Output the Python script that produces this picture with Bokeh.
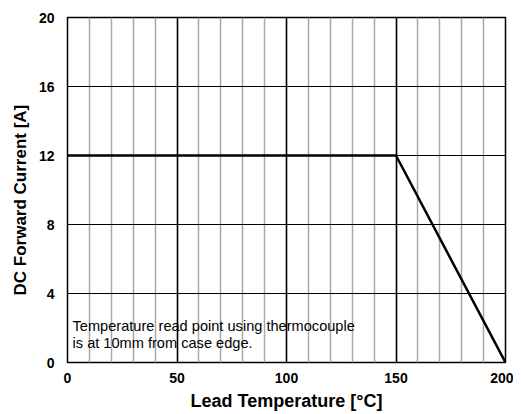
from bokeh.plotting import figure
from bokeh.models import FixedTicker, Label, Range1d, Title
from bokeh.embed import file_html
from bokeh.resources import INLINE

temps = [0, 150, 200]
current = [12, 12, 0]
x_ticks = [0, 50, 100, 150, 200]
x_minor = list(range(0, 201, 10))
y_ticks = [0, 4, 8, 12, 16, 20]
note_lines = ["Temperature read point using thermocouple", "is at 10mm from case edge."]
note_x = 2.3
note_y = [2.14, 1.15]
y_title = "DC Forward Current [A]"
x_title = "Lead Temperature [°C]"

p = figure(frame_width=438, frame_height=345, output_backend="svg", toolbar_location=None,
           x_range=Range1d(0, 200), y_range=Range1d(0, 20),
           min_border_left=67, min_border_right=8, min_border_top=17, min_border_bottom=46)
p.background_fill_color = "white"
p.border_fill_color = "white"
p.outline_line_color = "black"
p.outline_line_width = 1.5

p.xaxis.ticker = FixedTicker(ticks=x_ticks, minor_ticks=x_minor)
p.yaxis.ticker = FixedTicker(ticks=y_ticks)
p.xgrid.ticker = FixedTicker(ticks=x_ticks, minor_ticks=x_minor)
p.ygrid.ticker = FixedTicker(ticks=y_ticks)
p.xgrid.grid_line_color = "black"
p.xgrid.grid_line_width = 1.5
p.xgrid.minor_grid_line_color = "#a8a8a8"
p.xgrid.minor_grid_line_width = 1.5
p.ygrid.grid_line_color = "black"
p.ygrid.grid_line_width = 1.2
p.xgrid.grid_line_alpha = 1
p.ygrid.grid_line_alpha = 1

for ax in (p.xaxis, p.yaxis):
    ax.axis_line_color = None
    ax.major_tick_line_color = None
    ax.minor_tick_line_color = None
    ax.major_label_text_font = "Liberation Sans"
    ax.major_label_text_font_style = "bold"
    ax.major_label_text_font_size = "14px"
    ax.major_label_text_color = "black"
    ax.axis_label_text_font = "Liberation Sans"
    ax.axis_label_text_font_style = "bold"
    ax.axis_label_text_color = "black"

p.xaxis.major_label_standoff = 4
p.yaxis.major_label_standoff = 7
p.xaxis.axis_label = x_title
p.xaxis.axis_label_text_font_size = "18px"
p.xaxis.axis_label_standoff = 5

p.add_layout(Title(text=y_title, align="left", offset=67, standoff=12,
                   text_font="Liberation Sans", text_font_style="bold",
                   text_font_size="17px", text_color="black"), "left")

p.line(temps, current, line_color="black", line_width=2.5)

for t, yy in zip(note_lines, note_y):
    p.add_layout(Label(x=note_x, y=yy, text=t,
                       text_font="Liberation Sans", text_font_size="14.6px", text_color="black",
                       text_baseline="middle"))

html = file_html(p, INLINE)
open("out.html", "w").write(html)
